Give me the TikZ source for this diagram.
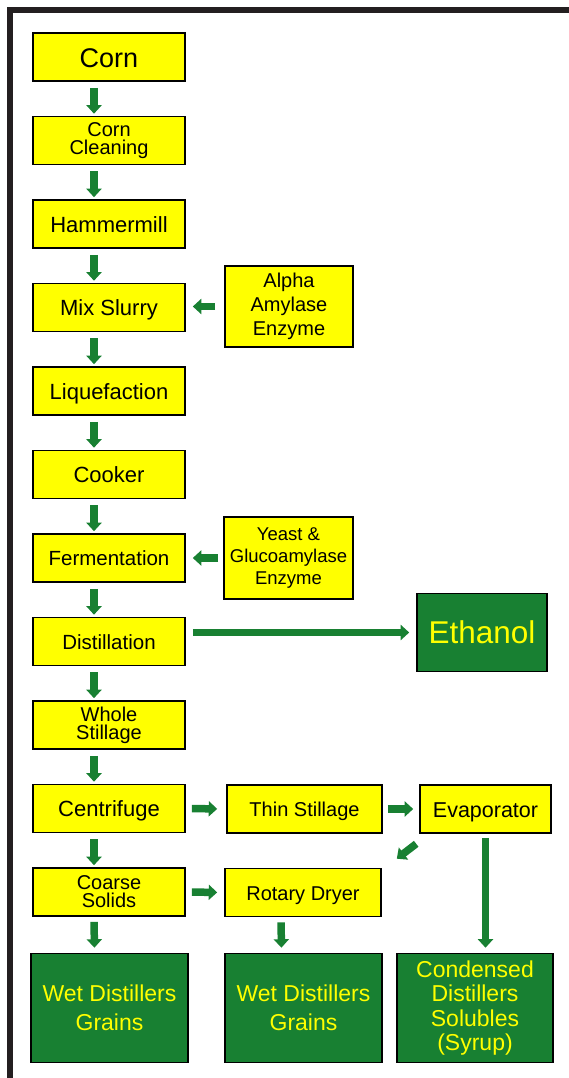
\documentclass[tikz,border=0pt]{standalone}
\usepackage{fontspec}
\setmainfont{Liberation Sans}
\usepackage{tikz}
\usetikzlibrary{arrows.meta}
\usepackage{xcolor}
\definecolor{flowgreen}{RGB}{24,128,50}
\definecolor{boxyellow}{RGB}{255,255,0}
\definecolor{framegray}{RGB}{35,31,32}

\tikzset{
  box/.style={draw=black, line width=1.6pt, fill=boxyellow, align=center, inner sep=0pt,
    minimum width=152pt, minimum height=48pt},
  prod/.style={draw=black, line width=1.6pt, fill=flowgreen, text=boxyellow, align=center, inner sep=0pt},
  flow/.style={draw=flowgreen, line width=7.5pt, -{Triangle[width=15pt,length=8.5pt]},
    shorten <=6pt, shorten >=2pt},
  onetxt/.style={font=\fontsize{22}{23}\selectfont, text height=16pt, text depth=0pt},
  midtxt/.style={font=\fontsize{20.5}{22}\selectfont, text height=15pt, text depth=0pt},
  twotxt/.style={font=\fontsize{20}{18}\selectfont},
  bigtxt/.style={font=\fontsize{27}{30}\selectfont, text height=22pt, text depth=0pt},
}

\begin{document}
\begin{tikzpicture}[x=1pt,y=-1pt]
    \useasboundingbox (0,0) rectangle (569,1078);
    \draw [framegray, line width=6pt] (10,1078) -- (10,10) -- (569,10);

    % main column
    \foreach \nm/\txt/\fnt [count=\k] [evaluate=\k as \y using 57+(\k-1)*83.5] in
      {corn/Corn/bigtxt, clean/{Corn\\Cleaning}/twotxt, hammer/Hammermill/onetxt,
       mix/Mix Slurry/onetxt, liq/Liquefaction/onetxt, cook/Cooker/onetxt,
       ferm/Fermentation/midtxt, dist/Distillation/midtxt, whole/{Whole\\Stillage}/twotxt,
       centri/Centrifuge/onetxt, coarse/{Coarse\\Solids}/twotxt}
    {
      \node [box,\fnt] (\nm) at (109,\y) {\txt};
    }
    \foreach \a/\b in {corn/clean, clean/hammer, hammer/mix, mix/liq, liq/cook, cook/ferm,
       ferm/dist, dist/whole, whole/centri, centri/coarse}
    {
      \draw [flow] ([xshift=-15pt]\a.south) -- ([xshift=-15pt]\b.north);
    }

    % side boxes
    \node [box, minimum width=128pt, minimum height=81pt, font=\fontsize{20}{24}\selectfont]
      (alpha) at (289,306.5) {Alpha\\Amylase\\Enzyme};
    \node [box, minimum width=129pt, minimum height=82pt, font=\fontsize{18.5}{22}\selectfont]
      (yeast) at (288.5,558) {Yeast \&\\Glucoamylase\\Enzyme};
    \node [prod, minimum width=130pt, minimum height=78pt, font=\fontsize{31.5}{34}\selectfont]
      (eth) at (482,632.5) {Ethanol};
    \node [box, midtxt, font=\fontsize{20}{22}\selectfont, minimum width=155pt] (thin) at (304.5,809) {Thin Stillage};
    \node [box, onetxt, font=\fontsize{21.5}{22}\selectfont, minimum width=131pt] (evap) at (485.5,809) {Evaporator};
    \node [box, midtxt, font=\fontsize{20}{22}\selectfont, minimum width=156pt] (rotary) at (303,892.5) {Rotary Dryer};

    % products
    \node [prod, minimum width=157pt, minimum height=109pt, font=\fontsize{23}{29}\selectfont]
      (wdg1) at (109.5,1008) {Wet Distillers\\Grains};
    \node [prod, minimum width=157pt, minimum height=109pt, font=\fontsize{23}{29}\selectfont]
      (wdg2) at (303.5,1008) {Wet Distillers\\Grains};
    \node [prod, minimum width=156pt, minimum height=109pt, font=\fontsize{23}{24.5}\selectfont]
      (cds) at (475,1008) {Condensed\\Distillers\\Solubles\\(Syrup)};

    \draw [flow, shorten <=9pt, shorten >=7pt] (alpha.west) -- (mix.east |- alpha.west);
    \draw [flow, shorten <=5pt, shorten >=7pt] (yeast.west) -- (ferm.east |- yeast.west);
    \draw [flow, shorten <=7pt, shorten >=7pt] (dist.east |- eth.west) -- (eth.west);
    \draw [flow, shorten <=6pt, shorten >=9pt] (centri.east) -- (thin.west);
    \draw [flow, shorten <=5pt, shorten >=6pt] (thin.east) -- (evap.west);
    \draw [flow, shorten <=6pt, shorten >=7pt] (coarse.east) -- (rotary.west);
    \draw [flow, shorten <=0pt, shorten >=0pt] ([xshift=-3pt,yshift=-10pt]evap.south west)
      -- ([xshift=15pt,yshift=9pt]rotary.north east);
    \draw [flow, shorten <=4pt, shorten >=5pt] (evap.south) -- (evap.south |- cds.north);
    \draw [flow, shorten <=5pt, shorten >=5pt] ([xshift=-15pt]coarse.south) -- ([xshift=-15pt]wdg1.north);
    \draw [flow, shorten <=5pt, shorten >=5pt] ([xshift=-22pt]rotary.south) -- ([xshift=-22pt]wdg2.north);
\end{tikzpicture}
\end{document}
